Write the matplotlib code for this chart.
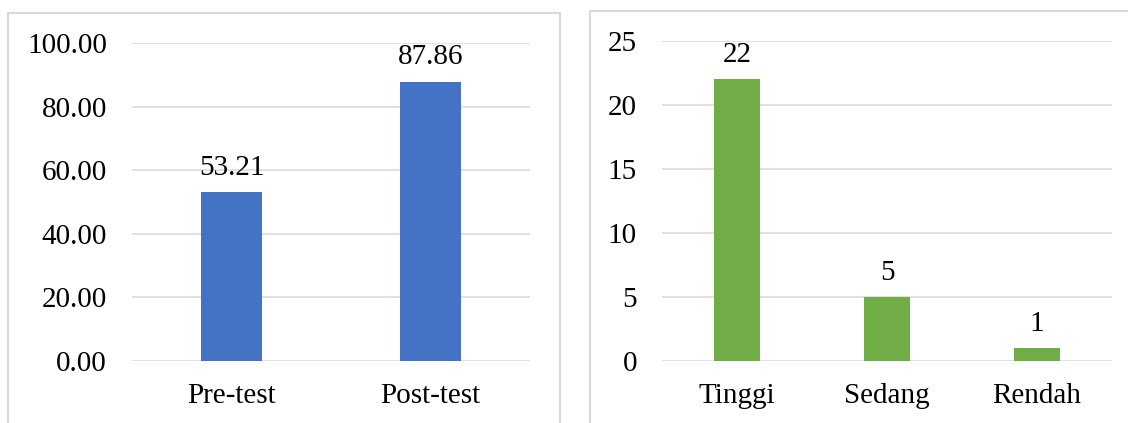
import matplotlib.pyplot as plt
from matplotlib.patches import Rectangle

plt.rcParams['font.family'] = ['Liberation Serif', 'DejaVu Serif']

# Test scores (left) and category counts (right)
test_labels = ['Pre-test', 'Post-test']
test_scores = [53.21, 87.86]
level_labels = ['Tinggi', 'Sedang', 'Rendah']
level_counts = [22, 5, 1]

W, H = 1128, 423
FS = 21
fig = plt.figure(figsize=(W / 100, H / 100), dpi=100)
grid_color = '#D9D9D9'

# panel frames
for x0, x1, y0 in [(8, 560, 13), (590, 1140, 11)]:
    fig.patches.append(Rectangle((x0 / W, -0.05), (x1 - x0) / W, (H - y0) / H + 0.05,
                                 transform=fig.transFigure, fill=False,
                                 edgecolor=grid_color, linewidth=1.5))


def style(ax):
    for s in ax.spines.values():
        s.set_visible(False)
    ax.tick_params(length=0, labelsize=FS)
    ax.tick_params(axis='y', pad=18)
    ax.tick_params(axis='x', pad=16)
    ax.yaxis.grid(True, color=grid_color, linewidth=1.1)
    ax.set_axisbelow(True)


def label_bars(ax, values, fmt):
    for i, v in enumerate(values):
        ax.annotate(fmt(v), (i, v), xytext=(0, 8), textcoords='offset points',
                    ha='center', va='bottom', fontsize=FS)


ax1 = fig.add_axes([132 / W, 62 / H, 398 / W, 318 / H])
ax1.bar(range(len(test_scores)), test_scores, width=0.31, color='#4472C4')
ax1.set_xlim(-0.5, len(test_scores) - 0.5)
ax1.set_ylim(0, 100)
ax1.set_yticks(range(0, 101, 20))
ax1.set_yticklabels([f'{v:.2f}' for v in range(0, 101, 20)])
ax1.set_xticks(range(len(test_labels)))
ax1.set_xticklabels(test_labels)
style(ax1)
label_bars(ax1, test_scores, lambda v: f'{v:.2f}')

ax2 = fig.add_axes([662 / W, 62 / H, 450 / W, 320 / H])
ax2.bar(range(len(level_counts)), level_counts, width=0.31, color='#70AD47')
ax2.set_xlim(-0.5, len(level_counts) - 0.5)
ax2.set_ylim(0, 25)
ax2.set_yticks(range(0, 26, 5))
ax2.set_xticks(range(len(level_labels)))
ax2.set_xticklabels(level_labels)
style(ax2)
label_bars(ax2, level_counts, str)

fig.savefig('out.png', dpi=100)
